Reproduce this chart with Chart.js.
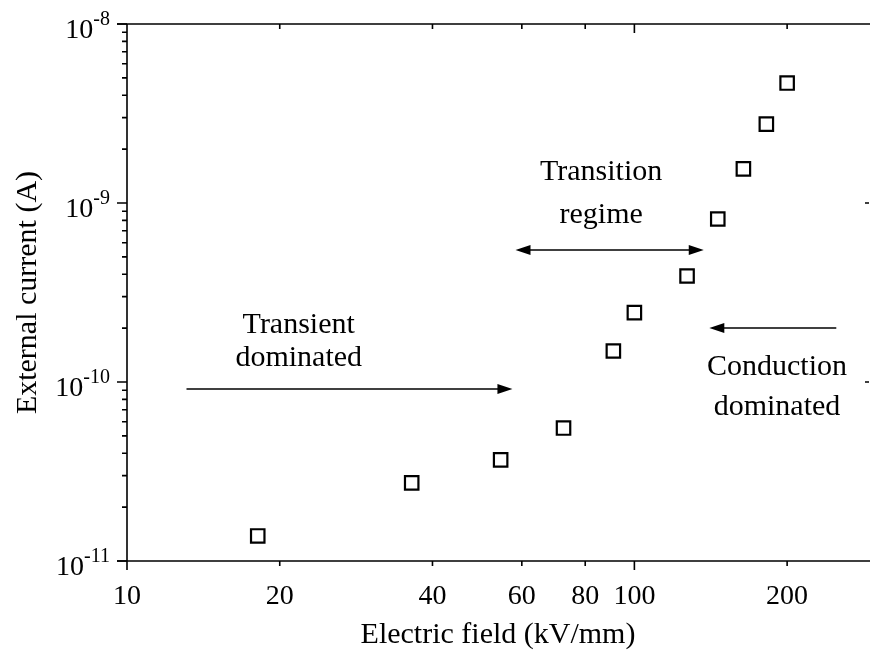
<!DOCTYPE html>
<html>
<head>
<meta charset="utf-8">
<script src="https://cdn.jsdelivr.net/npm/chart.js@4"></script>
<style>
  body { margin: 0; background: #fff; }
  #wrap { width: 870px; height: 652px; }
</style>
</head>
<body>
<div id="wrap"><canvas id="c" width="870" height="652"></canvas></div>
<script>
// data
const fieldKV = [18.1, 36.4, 54.5, 72.5, 90.9, 100, 127, 146, 164, 182, 200];
const currentA = [1.38e-11, 2.73e-11, 3.67e-11, 5.53e-11, 1.49e-10, 2.44e-10, 3.91e-10, 8.14e-10, 1.55e-9, 2.76e-9, 4.68e-9];

const xTickValues = [10, 20, 40, 60, 80, 100, 200];
const xTickLabels = ['10', '20', '40', '60', '80', '100', '200'];
const yTickValues = [1e-11, 1e-10, 1e-9, 1e-8];
const yTickExponents = ['-11', '-10', '-9', '-8'];

const xTitle = 'Electric field (kV/mm)';
const yTitle = 'External current (A)';

// annotation texts and arrows, anchored in data units
const notes = [
    { text: 'Transient', x: 21.8, y: 1.88e-10 },
    { text: 'dominated', x: 21.8, y: 1.23e-10 },
    { text: 'Transition', x: 86, y: 1.34e-9 },
    { text: 'regime', x: 86, y: 7.73e-10 },
    { text: 'Conduction', x: 191, y: 1.09e-10 },
    { text: 'dominated', x: 191, y: 6.54e-11 }
];
const arrows = [
    { x1: 13.1, x2: 57.5, y: 9.14e-11, heads: 'end' },
    { x1: 58.3, x2: 137, y: 5.46e-10, heads: 'both' },
    { x1: 250, x2: 140.5, y: 2.0e-10, heads: 'end' }
];

const serif = '"Liberation Serif", "DejaVu Serif", serif';

function arrowHead(ctx, x, y, dir) {
    ctx.beginPath();
    ctx.moveTo(x, y);
    ctx.lineTo(x - dir * 15, y - 5);
    ctx.lineTo(x - dir * 15, y + 5);
    ctx.closePath();
    ctx.fill();
}

const decorPlugin = {
    id: 'decor',
    afterDraw(chart) {
        const ctx = chart.ctx;
        const xs = chart.scales.x;
        const ys = chart.scales.y;
        const a = chart.chartArea;
        ctx.save();
        ctx.strokeStyle = '#000';
        ctx.fillStyle = '#000';
        ctx.lineWidth = 1.6;

        // frame: top, left, bottom (right edge is cut off)
        ctx.beginPath();
        ctx.moveTo(a.left - 10, a.top); ctx.lineTo(870, a.top);
        ctx.moveTo(a.left, a.top); ctx.lineTo(a.left, a.bottom);
        ctx.moveTo(a.left - 10, a.bottom); ctx.lineTo(870, a.bottom);
        ctx.stroke();

        // y ticks
        ctx.beginPath();
        for (let e = -11; e < -8; e++) {
            for (let k = 2; k <= 9; k++) {
                const py = ys.getPixelForValue(k * Math.pow(10, e));
                ctx.moveTo(a.left - 5, py); ctx.lineTo(a.left, py);
            }
        }
        yTickValues.forEach(v => {
            const py = ys.getPixelForValue(v);
            ctx.moveTo(a.left - 10, py); ctx.lineTo(a.left, py);
        });
        [1e-10, 1e-9].forEach(v => {
            const py = ys.getPixelForValue(v);
            ctx.moveTo(a.right - 4, py); ctx.lineTo(a.right, py);
        });
        // x ticks, bottom outward, top inward
        xTickValues.forEach(v => {
            const px = xs.getPixelForValue(v);
            const len = (v === 10 || v === 100) ? 9 : 5;
            ctx.moveTo(px, a.bottom); ctx.lineTo(px, a.bottom + len);
            if (v !== 10) {
                ctx.moveTo(px, a.top); ctx.lineTo(px, a.top + len);
            }
        });
        ctx.stroke();

        // x tick labels
        ctx.font = '28px ' + serif;
        ctx.textAlign = 'center';
        ctx.textBaseline = 'alphabetic';
        xTickValues.forEach((v, i) => {
            ctx.fillText(xTickLabels[i], xs.getPixelForValue(v), a.bottom + 43);
        });

        // y tick labels 10^n
        yTickValues.forEach((v, i) => {
            const py = ys.getPixelForValue(v);
            ctx.font = '20px ' + serif;
            const w = ctx.measureText(yTickExponents[i]).width;
            ctx.textAlign = 'left';
            ctx.fillText(yTickExponents[i], a.left - 17 - w, py + 1);
            ctx.font = '28px ' + serif;
            ctx.textAlign = 'right';
            ctx.fillText('10', a.left - 17 - w, py + 14);
        });

        // axis titles
        ctx.font = '30px ' + serif;
        ctx.textAlign = 'center';
        ctx.fillText(xTitle, (a.left + a.right) / 2, 643);
        ctx.save();
        ctx.translate(36, (a.top + a.bottom) / 2);
        ctx.rotate(-Math.PI / 2);
        ctx.fillText(yTitle, 0, 0);
        ctx.restore();

        // annotations
        notes.forEach(n => {
            ctx.fillText(n.text, xs.getPixelForValue(n.x), ys.getPixelForValue(n.y));
        });
        ctx.lineWidth = 1.5;
        arrows.forEach(ar => {
            const x1 = xs.getPixelForValue(ar.x1);
            const x2 = xs.getPixelForValue(ar.x2);
            const py = ys.getPixelForValue(ar.y);
            const dir = Math.sign(x2 - x1);
            ctx.beginPath();
            ctx.moveTo(x1 + (ar.heads === 'both' ? dir * 10 : 0), py);
            ctx.lineTo(x2 - dir * 10, py);
            ctx.stroke();
            arrowHead(ctx, x2, py, dir);
            if (ar.heads === 'both') arrowHead(ctx, x1, py, -dir);
        });
        ctx.restore();
    }
};

new Chart(document.getElementById('c').getContext('2d'), {
    type: 'scatter',
    data: {
        datasets: [{
            data: fieldKV.map((x, i) => ({ x: x, y: currentA[i] })),
            pointStyle: 'rect',
            pointRadius: 9.5,
            pointBorderWidth: 2.2,
            pointBorderColor: '#000',
            pointBackgroundColor: 'rgba(0,0,0,0)',
            showLine: false
        }]
    },
    options: {
        responsive: false,
        animation: false,
        layout: { autoPadding: false, padding: { left: 127, top: 24, right: 1, bottom: 91 } },
        scales: {
            x: { type: 'logarithmic', min: 10, max: 290, display: false },
            y: { type: 'logarithmic', min: 1e-11, max: 1e-8, display: false }
        },
        plugins: {
            legend: { display: false },
            tooltip: { enabled: false }
        }
    },
    plugins: [decorPlugin]
});
</script>
</body>
</html>
